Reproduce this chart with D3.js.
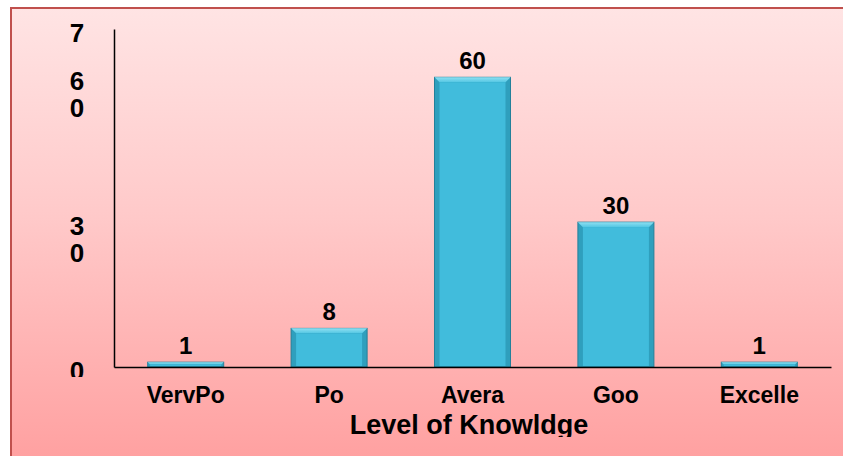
<!DOCTYPE html>
<html lang="en">
<head>
<meta charset="UTF-8">
<title>Level of Knowledge</title>
<script src="https://d3js.org/d3.v7.min.js"></script>
<style>
  body { margin: 0; background: #fff; }
  text { font-family: "Liberation Sans", Arial, sans-serif; font-weight: bold; fill: #000; }
</style>
</head>
<body>
<script>
var categories = ["VervPo", "Po", "Avera", "Goo", "Excelle"];
var values = [1, 8, 60, 30, 1];
var tickValues = [0, 30, 60, 70];
var tickLabels = [["0"], ["3", "0"], ["6", "0"], ["7"]];
var axisTitle = "Level of Knowldge";

var width = 843, height = 456;
var plotLeft = 114, plotRight = 831, plotTop = 29, plotBottom = 367;

var svg = d3.select("body").append("svg")
    .attr("width", width).attr("height", height);

var defs = svg.append("defs");
var bg = defs.append("linearGradient").attr("id", "bg")
    .attr("x1", 0).attr("y1", 0).attr("x2", 0).attr("y2", 1);
bg.append("stop").attr("offset", "0%").attr("stop-color", "#ffe4e4");
bg.append("stop").attr("offset", "45%").attr("stop-color", "#ffc9c9");
bg.append("stop").attr("offset", "100%").attr("stop-color", "#ff9e9e");

var topBevel = defs.append("linearGradient").attr("id", "topBevel")
    .attr("x1", 0).attr("y1", 0).attr("x2", 0).attr("y2", 1);
topBevel.append("stop").attr("offset", "0%").attr("stop-color", "#8fe0f2");
topBevel.append("stop").attr("offset", "100%").attr("stop-color", "#52c6e3");

defs.append("clipPath").attr("id", "yclip").append("rect")
    .attr("x", 0).attr("y", 0).attr("width", plotLeft).attr("height", 377);
defs.append("clipPath").attr("id", "tclip").append("rect")
    .attr("x", 0).attr("y", 0).attr("width", width).attr("height", 437);

// chart area background
svg.append("rect")
    .attr("x", 11).attr("y", 8).attr("width", width + 10).attr("height", height + 10)
    .attr("fill", "url(#bg)")
    .attr("stroke", "#c0504d").attr("stroke-width", 2);

var x = d3.scaleBand().domain(categories).range([plotLeft, plotRight])
    .paddingInner(0.47).paddingOuter(0.235);
var y = d3.scaleLinear().domain([0, 70]).range([plotBottom, plotTop]);

// bars with bevel
var bars = svg.append("g").selectAll("g").data(values).join("g");
bars.each(function(v, i) {
  var g = d3.select(this);
  var x0 = x(categories[i]), w = x.bandwidth();
  var y0 = y(v), h = y(0) - y(v);
  var b = Math.min(5, h / 2);
  g.append("rect").attr("x", x0).attr("y", y0).attr("width", w).attr("height", h)
      .attr("fill", "#2f9fbd").attr("stroke", "#23809a").attr("stroke-width", 1);
  g.append("path")
      .attr("d", "M" + x0 + "," + y0 + "H" + (x0 + w) + "L" + (x0 + w - b) + "," + (y0 + b) +
                 "H" + (x0 + b) + "Z")
      .attr("fill", "url(#topBevel)");
  g.append("rect").attr("x", x0 + b).attr("y", y0 + b)
      .attr("width", w - 2 * b).attr("height", Math.max(0, h - b - 1))
      .attr("fill", "#41bcdc");
});

// value labels
svg.append("g").selectAll("text").data(values).join("text")
    .attr("x", function(d, i) { return x(categories[i]) + x.bandwidth() / 2; })
    .attr("y", function(d) { return y(d) - 8; })
    .attr("text-anchor", "middle")
    .style("font-size", "24px")
    .text(function(d) { return d; });

// axes
var yAxis = svg.append("g").attr("transform", "translate(" + plotLeft + ",0)")
    .call(d3.axisLeft(y).tickValues(tickValues).tickSize(0).tickFormat(""));
yAxis.select(".domain").attr("stroke", "#000").attr("stroke-width", 1.5);

var xAxis = svg.append("g").attr("transform", "translate(0," + plotBottom + ")")
    .call(d3.axisBottom(x).tickSize(0).tickFormat(""));
xAxis.select(".domain").attr("stroke", "#000").attr("stroke-width", 1.5);

// y tick labels (wrapped in two lines like the original)
var yl = svg.append("g").attr("clip-path", "url(#yclip)");
yl.selectAll("text").data(tickValues).join("text")
    .attr("x", 77)
    .attr("y", function(d) { return y(d) + 13; })
    .attr("text-anchor", "middle")
    .style("font-size", "26px")
    .each(function(d, i) {
      var t = d3.select(this);
      tickLabels[i].forEach(function(s, j) {
        t.append("tspan").attr("x", 77).attr("dy", j === 0 ? 0 : 27).text(s);
      });
    });

// category labels
svg.append("g").selectAll("text").data(categories).join("text")
    .attr("x", function(d) { return x(d) + x.bandwidth() / 2; })
    .attr("y", 403)
    .attr("text-anchor", "middle")
    .style("font-size", "23px")
    .text(function(d) { return d; });

// axis title
svg.append("text")
    .attr("clip-path", "url(#tclip)")
    .attr("x", 469).attr("y", 434)
    .attr("text-anchor", "middle")
    .style("font-size", "27px")
    .text(axisTitle);
</script>
</body>
</html>
